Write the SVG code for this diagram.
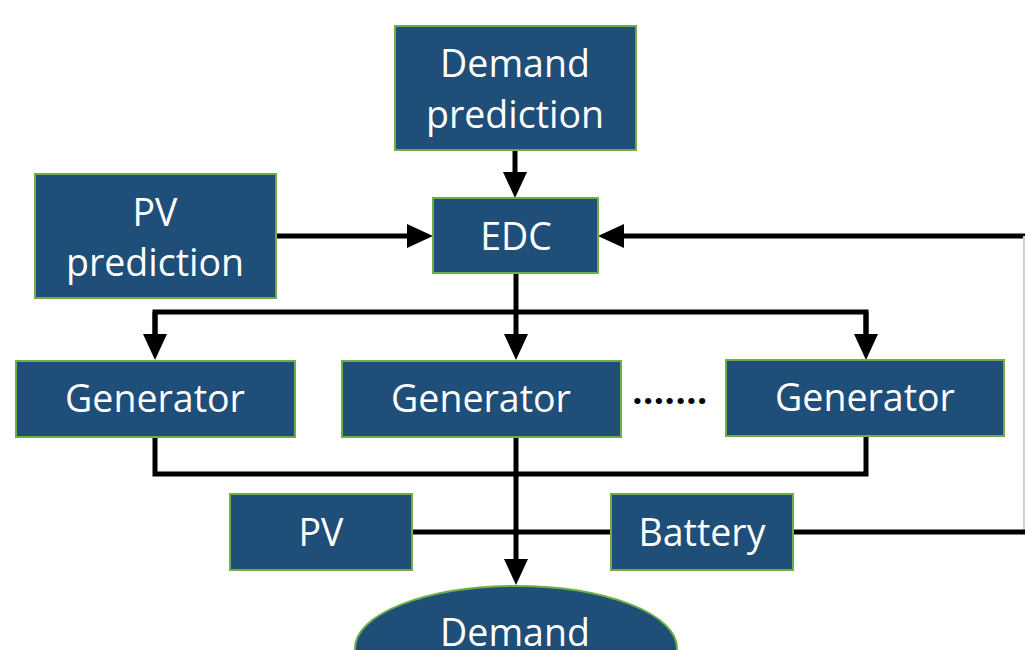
<svg xmlns="http://www.w3.org/2000/svg" width="1025" height="650" viewBox="0 0 1025 650">
<defs>
<style>
.box{fill:#1F4E79;stroke:#70AD47;stroke-width:2}
.lbl{fill:#FFFFFF;font-family:"Open Sans","DejaVu Sans",sans-serif;font-size:37.5px;text-anchor:middle}
.ln{fill:none;stroke:#000000;stroke-width:5;stroke-linejoin:miter}
.arr{fill:none;stroke:#000000;stroke-width:5;marker-end:url(#ah)}
</style>
<marker id="ah" markerUnits="userSpaceOnUse" markerWidth="26" markerHeight="24" viewBox="0 0 26 24" refX="1" refY="12" orient="auto">
<path d="M0,0 L26,12 L0,24 z" fill="#000000"/>
</marker>
</defs>
<rect width="1025" height="650" fill="#FFFFFF"/>
<g id="connectors">
<line class="arr" x1="515" y1="150" x2="515" y2="173"/>
<line class="arr" x1="276" y1="236" x2="408" y2="236"/>
<line class="arr" x1="1025" y1="236" x2="623" y2="236"/>
<line x1="1024" y1="236" x2="1024" y2="532" stroke="#D0D0D0" stroke-width="2"/>
<line class="ln" x1="793" y1="532" x2="1025" y2="532"/>
<line class="ln" x1="412" y1="532" x2="611" y2="532"/>
<line class="ln" x1="516" y1="273" x2="516" y2="312"/>
<polyline class="ln" points="155,335 155,312 866,312 866,335"/>
<line class="arr" x1="155" y1="312" x2="155" y2="335"/>
<line class="arr" x1="516" y1="312" x2="516" y2="335"/>
<line class="arr" x1="866" y1="312" x2="866" y2="335"/>
<polyline class="ln" points="155,437 155,474 866,474 866,436"/>
<line class="arr" x1="516" y1="437" x2="516" y2="560"/>
</g>
<g id="demand-prediction">
<rect class="box" x="395" y="26" width="241" height="124"/>
<text class="lbl" x="515" y="77">Demand</text>
<text class="lbl" x="515" y="128">prediction</text>
</g>
<g id="pv-prediction">
<rect class="box" x="35" y="174" width="241" height="124"/>
<text class="lbl" x="155" y="226">PV</text>
<text class="lbl" x="155" y="276">prediction</text>
</g>
<g id="edc">
<rect class="box" x="433" y="198" width="165" height="75"/>
<text class="lbl" x="516" y="250">EDC</text>
</g>
<g id="generator-1">
<rect class="box" x="16" y="361" width="279" height="76"/>
<text class="lbl" x="155" y="412">Generator</text>
</g>
<g id="generator-2">
<rect class="box" x="342" y="361" width="279" height="76"/>
<text class="lbl" x="481" y="412">Generator</text>
</g>
<g id="ellipsis">
<text x="670" y="404" font-family="'Open Sans','DejaVu Sans',sans-serif" font-size="36" font-weight="bold" text-anchor="middle" fill="#000000" letter-spacing="0.5">.......</text>
</g>
<g id="generator-3">
<rect class="box" x="726" y="360" width="278" height="76"/>
<text class="lbl" x="865" y="411">Generator</text>
</g>
<g id="pv">
<rect class="box" x="230" y="494" width="182" height="76"/>
<text class="lbl" x="321" y="546">PV</text>
</g>
<g id="battery">
<rect class="box" x="611" y="494" width="182" height="76"/>
<text class="lbl" x="702" y="546">Battery</text>
</g>
<g id="demand">
<ellipse class="box" cx="516" cy="648" rx="161" ry="62"/>
<text class="lbl" x="515" y="646">Demand</text>
</g>
</svg>
